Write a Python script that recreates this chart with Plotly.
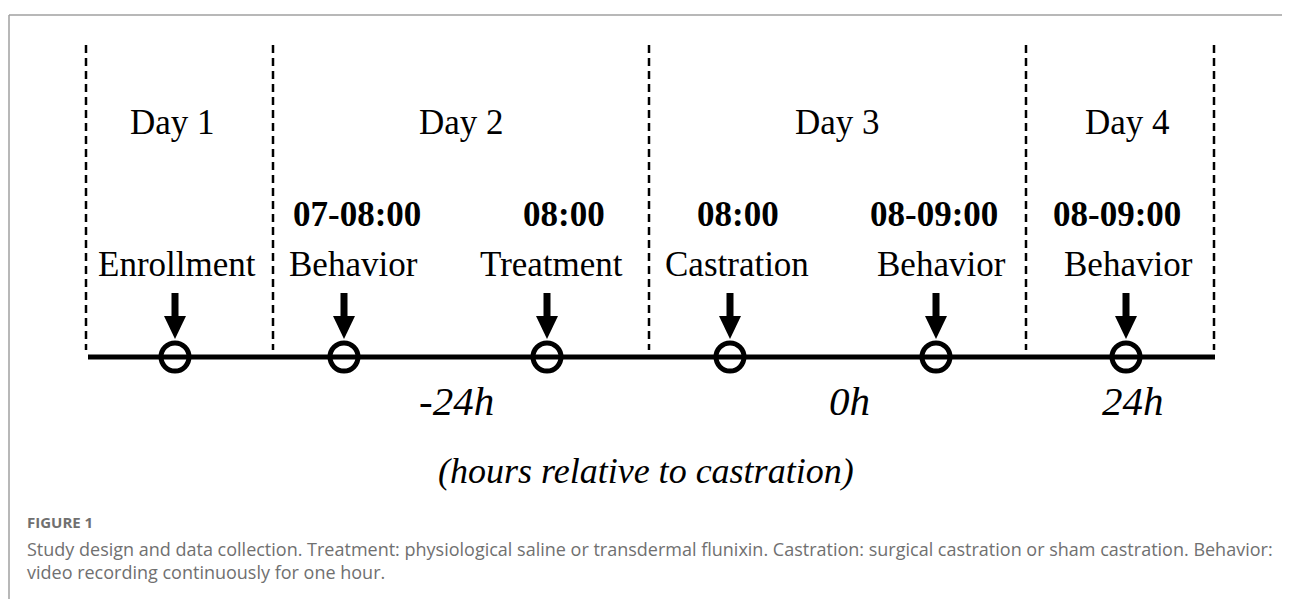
import plotly.graph_objects as go

# ---- data (schematic positions on the timeline, in figure units) ----
day_labels = ["Day 1", "Day 2", "Day 3", "Day 4"]
day_label_x = [172, 461, 837, 1127]
day_boundaries = [86, 273, 649, 1026, 1214]

event_names = ["Enrollment", "Behavior", "Treatment", "Castration", "Behavior", "Behavior"]
event_name_x = [177, 353, 551, 737, 941, 1128]
event_times = ["", "07-08:00", "08:00", "08:00", "08-09:00", "08-09:00"]
event_time_x = [177, 357, 564, 738, 934, 1117]
event_x = [175, 344, 547, 730, 936, 1126]

hour_labels = ["-24h", "0h", "24h"]
hour_x = [456, 849, 1133]

axis_title = "(hours relative to castration)"
caption_head = "FIGURE 1"
caption_lines = [
    "Study design and data collection. Treatment: physiological saline or transdermal flunixin. Castration: surgical castration or sham castration. Behavior:",
    "video recording continuously for one hour.",
]

# ---- layout constants ----
PAGE_W, PAGE_H = 1290, 599
OFF = 8  # default body margin of the html page
timeline_y = 357
timeline_x0, timeline_x1 = 88, 1215
dash_top, dash_bot = 45, 350
serif = "Liberation Serif, Times New Roman, serif"

fig = go.Figure()
shapes = []

# figure frame (top + left)
shapes.append(dict(type="line", xref="x", yref="y", x0=9, x1=PAGE_W, y0=15, y1=15,
                   line=dict(color="#a0a0a0", width=1.5)))
shapes.append(dict(type="line", xref="x", yref="y", x0=9, x1=9, y0=15, y1=PAGE_H,
                   line=dict(color="#a0a0a0", width=1.5)))

# dashed day boundaries
for bx in day_boundaries:
    shapes.append(dict(type="line", xref="x", yref="y", x0=bx, x1=bx,
                       y0=dash_top, y1=dash_bot,
                       line=dict(color="black", width=2.5, dash="8px,5px")))

# timeline
shapes.append(dict(type="line", xref="x", yref="y", x0=timeline_x0, x1=timeline_x1,
                   y0=timeline_y, y1=timeline_y, line=dict(color="black", width=5)))

# arrows
for ex in event_x:
    shapes.append(dict(type="line", xref="x", yref="y", x0=ex, x1=ex, y0=293, y1=319,
                       line=dict(color="black", width=7)))
    shapes.append(dict(type="path", xref="x", yref="y",
                       path=f"M {ex-11},{316} L {ex+11},{316} L {ex},{339} Z",
                       fillcolor="black", line=dict(color="black", width=0)))

fig.update_layout(shapes=shapes)

# circles on the timeline
fig.add_trace(go.Scatter(
    x=event_x, y=[timeline_y] * len(event_x), mode="markers",
    marker=dict(symbol="circle", size=28, color="white",
                line=dict(color="black", width=5)),
    hoverinfo="skip", showlegend=False))

ann = []
for t, x in zip(day_labels, day_label_x):
    ann.append(dict(x=x, y=122, text=t, font=dict(family=serif, size=35, color="black")))
for t, x in zip(event_times, event_time_x):
    if t:
        ann.append(dict(x=x, y=214, text=f"<b>{t}</b>",
                        font=dict(family=serif, size=35, color="black")))
for t, x in zip(event_names, event_name_x):
    ann.append(dict(x=x, y=264, text=t, font=dict(family=serif, size=35, color="black")))
for t, x in zip(hour_labels, hour_x):
    ann.append(dict(x=x, y=401, text=f"<i>{t}</i>",
                    font=dict(family=serif, size=41, color="black")))
ann.append(dict(x=646, y=471, text=f"<i>{axis_title}</i>",
                font=dict(family=serif, size=36, color="black")))

for a in ann:
    a.update(xref="x", yref="y", showarrow=False, xanchor="center", yanchor="middle")

# caption
ann.append(dict(x=25, y=522, xref="x", yref="y", showarrow=False, xanchor="left",
                yanchor="middle", text=f"<b>{caption_head}</b>",
                font=dict(family="Open Sans, sans-serif", size=15, color="#707070")))
for i, line in enumerate(caption_lines):
    ann.append(dict(x=25, y=549 + 23 * i, xref="x", yref="y", showarrow=False,
                    xanchor="left", yanchor="middle", text=line,
                    font=dict(family="Open Sans, sans-serif", size=18, color="#707070")))

fig.update_layout(
    annotations=ann,
    width=PAGE_W - OFF, height=PAGE_H - OFF, autosize=False,
    margin=dict(l=0, r=0, t=0, b=0),
    paper_bgcolor="white", plot_bgcolor="white",
    xaxis=dict(range=[OFF, PAGE_W], visible=False, fixedrange=True),
    yaxis=dict(range=[PAGE_H, OFF], visible=False, fixedrange=True),
    showlegend=False,
)

fig.write_html("out.html")
